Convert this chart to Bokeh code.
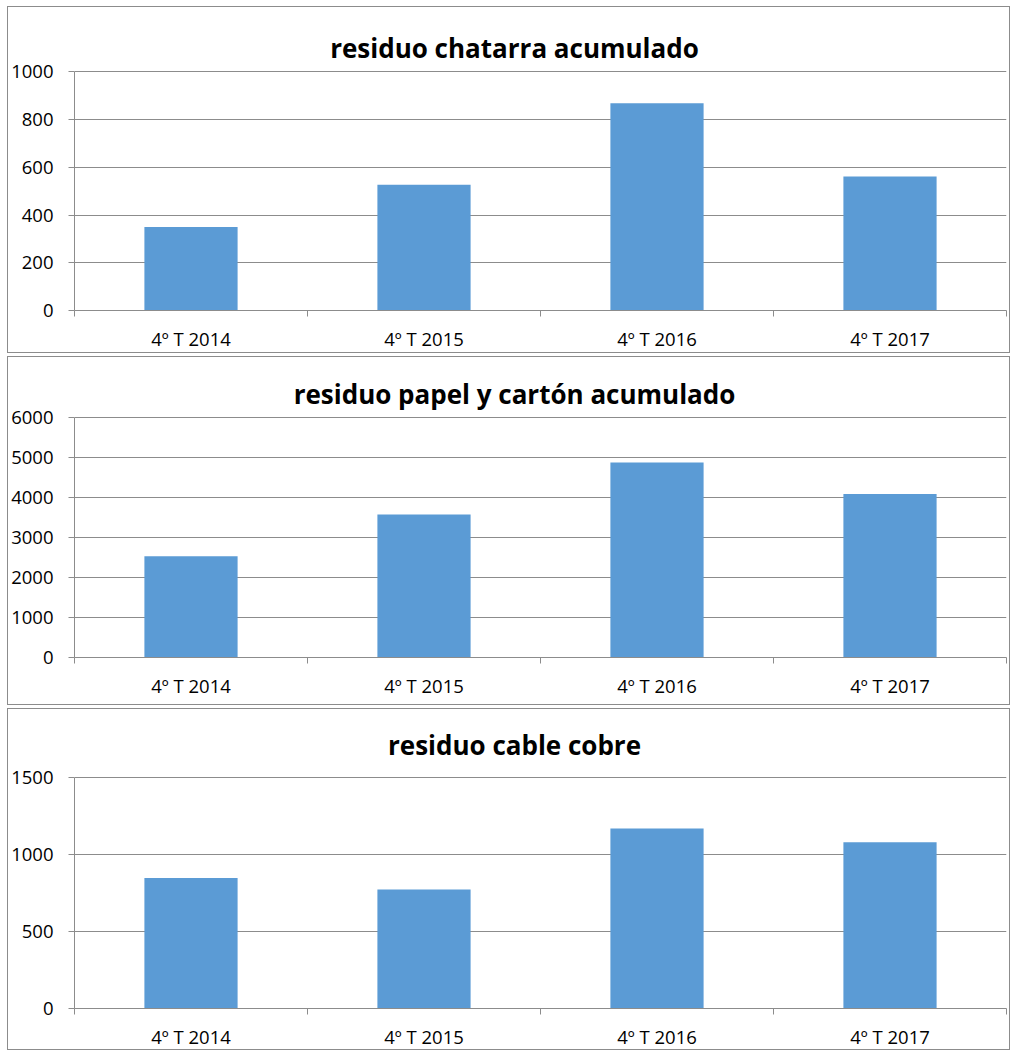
from bokeh.plotting import figure
from bokeh.layouts import column
from bokeh.models import Range1d, FixedTicker, Label, ColumnDataSource
from bokeh.embed import file_html
from bokeh.resources import INLINE

# ---- data ----
periods = ["4º T 2014", "4º T 2015", "4º T 2016", "4º T 2017"]
chatarra = [350, 527, 869, 562]
papel_carton = [2535, 3575, 4875, 4092]
cable_cobre = [847, 773, 1168, 1079]

title_chatarra = "residuo chatarra acumulado"
title_papel = "residuo papel y cartón acumulado"
title_cobre = "residuo cable cobre"

ticks_chatarra = [0, 200, 400, 600, 800, 1000]
ticks_papel = [0, 1000, 2000, 3000, 4000, 5000, 6000]
ticks_cobre = [0, 500, 1000, 1500]

GRAY = "#8c8c8c"
BAR = "#5B9BD5"
FONT = "Open Sans"
TICK_SIZE = "18.5px"


def panel(title, values, yticks, box_height, bottom, plot_h, title_y):
    """box_height: outer height incl. 1px border; bottom: px below the frame;
    plot_h: px between the top tick and the zero line; title_y: title
    position above the zero line (px)."""
    n = len(periods)
    centers = [i + 0.5 for i in range(n)]
    source = ColumnDataSource(dict(x=centers, top=values))
    top_border = 3
    frame_h = box_height - 2 - top_border - bottom
    y_end = yticks[-1] * frame_h / plot_h
    p = figure(width=1003, height=box_height,
               x_range=Range1d(0, n), y_range=Range1d(yticks[0], y_end),
               output_backend="svg", toolbar_location=None,
               min_border_left=66, min_border_right=5,
               min_border_top=top_border, min_border_bottom=bottom)
    p.vbar(x="x", top="top", bottom=0, width=0.4, source=source,
           fill_color=BAR, line_color=None)

    p.outline_line_color = None
    p.background_fill_color = "white"
    p.border_fill_color = "white"
    p.styles = {"border": "1px solid " + GRAY}

    # x axis: labels at category centres, ticks at category boundaries
    xa = p.xaxis[0]
    xa.ticker = FixedTicker(ticks=centers, minor_ticks=list(range(n + 1)))
    xa.major_label_overrides = {c: lab for c, lab in zip(centers, periods)}
    xa.major_tick_line_color = None
    xa.major_tick_in = 0
    xa.major_tick_out = 0
    xa.minor_tick_in = 0
    xa.minor_tick_out = 6
    xa.minor_tick_line_color = GRAY
    xa.axis_line_color = GRAY
    xa.major_label_text_font = FONT
    xa.major_label_text_font_size = TICK_SIZE
    xa.major_label_text_color = "black"
    xa.major_label_standoff = 9

    ya = p.yaxis[0]
    ya.ticker = FixedTicker(ticks=yticks)
    ya.bounds = (yticks[0], yticks[-1])
    ya.major_tick_in = 0
    ya.major_tick_out = 6
    ya.major_tick_line_color = GRAY
    ya.minor_tick_line_color = None
    ya.axis_line_color = GRAY
    ya.major_label_text_font = FONT
    ya.major_label_text_font_size = TICK_SIZE
    ya.major_label_text_color = "black"
    ya.major_label_standoff = 15

    p.xgrid.grid_line_color = None
    p.ygrid.grid_line_color = GRAY
    p.ygrid.grid_line_width = 1

    p.add_layout(Label(x=440, y=title_y, x_units="screen", y_units="screen",
                       text=title, text_align="center", text_baseline="alphabetic",
                       text_font=FONT, text_font_style="bold", text_font_size="26px",
                       text_color="black"))
    return p


p1 = panel(title_chatarra, chatarra, ticks_chatarra, 347, 44, 237, 263)
p2 = panel(title_papel, papel_carton, ticks_papel, 349, 49, 238.3, 264)
p3 = panel(title_cobre, cable_cobre, ticks_cobre, 342, 36, 235, 264)

layout = column(p1, p2, p3, spacing=3, styles={"margin-left": "7px", "margin-top": "6px"})

open("out.html", "w").write(file_html(layout, INLINE))
